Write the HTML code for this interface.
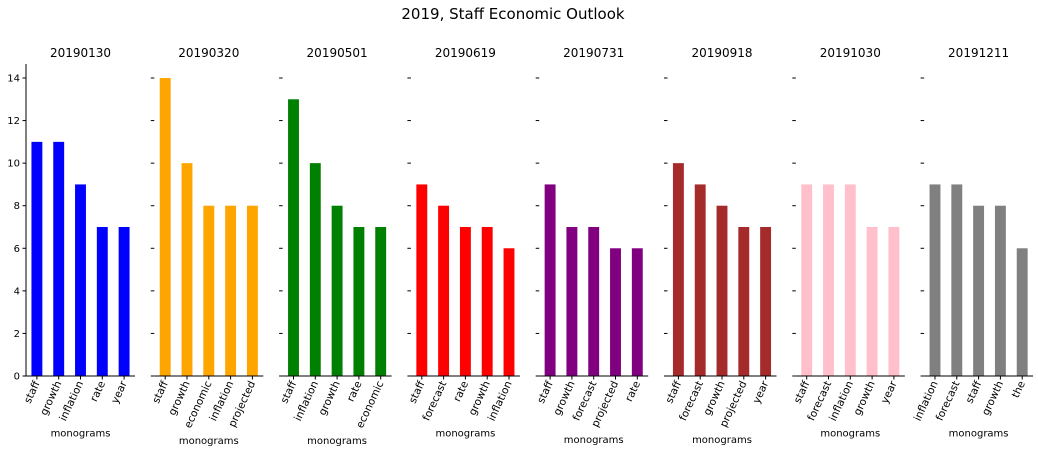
<!DOCTYPE html>
<html><head><meta charset="utf-8"><style>
body{margin:0;background:#fff}
svg{font-family:"DejaVu Sans","Liberation Sans",sans-serif}
</style></head><body>
<svg id="c" width="1038" height="452" xmlns="http://www.w3.org/2000/svg">
<text x="513" y="19" font-size="15" text-anchor="middle">2019, Staff Economic Outlook</text>
</svg>
<script>
const titles=["20190130","20190320","20190501","20190619","20190731","20190918","20191030","20191211"];
const colors=["blue","orange","green","red","purple","brown","pink","gray"];
const words=[["staff","growth","inflation","rate","year"],["staff","growth","economic","inflation","projected"],["staff","inflation","growth","rate","economic"],["staff","forecast","rate","growth","inflation"],["staff","growth","forecast","projected","rate"],["staff","forecast","growth","projected","year"],["staff","forecast","inflation","growth","year"],["inflation","forecast","staff","growth","the"]];
const counts=[[11,11,9,7,7],[14,10,8,8,8],[13,10,8,7,7],[9,8,7,7,6],[9,7,7,6,6],[10,9,8,7,7],[9,9,9,7,7],[9,9,8,8,6]];
const yTicks=[0,2,4,6,8,10,12,14];
const svg=document.getElementById('c');
const NS="http://www.w3.org/2000/svg";
function mk(t,a,p){const e=document.createElementNS(NS,t);for(const k in a)e.setAttribute(k,a[k]);(p||svg).appendChild(e);return e;}
const y0=376,yTop=78,W=109;
function ys(v){return y0-(v/14)*(y0-yTop);}
titles.forEach((t,i)=>{
  const L=26+i*128.3;
  const g=mk('g',{});
  
  
  const xs=j=>L+(j+0.5)*W/5;
  const st=mk('text',{x:L+W/2,y:57,'font-size':12,'text-anchor':'middle'},g);st.textContent=t;
  
  
  counts[i].forEach((v,j)=>{
    const r=mk('rect',{x:xs(j)-W/20,y:ys(v),width:W/10,height:y0-ys(v),fill:colors[i]},g);
    
    
  });
  const d=i===0?`M${L} ${yTop-14} V${y0} H${L+W}`:`M${L} ${y0} H${L+W}`;
  const ax=mk('path',{d:d,stroke:'#000','stroke-width':1,fill:'none'},g);
  
  
  yTicks.forEach(v=>{
    mk('line',{x1:L-3.5,x2:L,y1:ys(v),y2:ys(v),stroke:'#000'},g);
    if(i===0){const tt=mk('text',{x:L-6,y:ys(v)+3.5,'font-size':10,'text-anchor':'end'},g);tt.textContent=v;
      
      }
  });
  let maxH=0;
  words[i].forEach((w,j)=>{
    mk('line',{x1:xs(j),x2:xs(j),y1:y0,y2:y0+3.5,stroke:'#000'},g);
    const tx=mk('text',{transform:`translate(${xs(j)+3},${y0+7}) rotate(-65)`,'font-size':10.5,'text-anchor':'end'},g);
    tx.textContent=w;
    
    
    const len=tx.getComputedTextLength();maxH=Math.max(maxH,len*0.906);
  });
  const xl=mk('text',{x:L+W/2,y:y0+7+maxH+15,'font-size':10,'text-anchor':'middle'},g);
  xl.textContent='monograms';
  
  
});
</script>
</body></html>
